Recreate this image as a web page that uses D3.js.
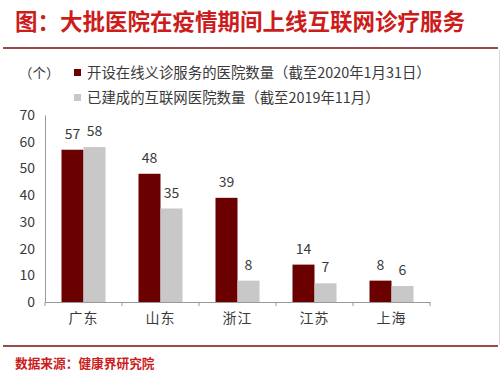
<!DOCTYPE html>
<html>
<head>
<meta charset="utf-8">
<script src="https://cdn.jsdelivr.net/npm/d3@7"></script>
<style>
  body { margin: 0; background: #fff; }
  text { font-family: "Noto Sans CJK SC", "Noto Sans", sans-serif; }
</style>
</head>
<body>
<script>
var categories = ["广东", "山东", "浙江", "江苏", "上海"];
var seriesNames = ["开设在线义诊服务的医院数量（截至2020年1月31日）", "已建成的互联网医院数量（截至2019年11月）"];
var onlineClinic = [57, 48, 39, 14, 8];
var internetHospital = [58, 35, 8, 7, 6];
var yTicks = [0, 10, 20, 30, 40, 50, 60, 70];
var colors = ["#6b0000", "#c8c8c8"];

var W = 502, H = 378;
var svg = d3.select("body").append("svg")
	.attr("width", W)
	.attr("height", H);

svg.append("rect").attr("width", W).attr("height", H).attr("fill", "#fff");

// title + rules
svg.append("text")
	.attr("x", 15)
	.attr("y", 30)
	.attr("font-size", "22.5px")
	.attr("font-weight", "bold")
	.attr("fill", "#cc1c1c")
	.text("图：大批医院在疫情期间上线互联网诊疗服务");

svg.append("line")
	.attr("x1", 3).attr("x2", 498)
	.attr("y1", 48).attr("y2", 48)
	.attr("stroke", "#9a4a4a").attr("stroke-width", 2);

svg.append("line")
	.attr("x1", 3).attr("x2", 498)
	.attr("y1", 346).attr("y2", 346)
	.attr("stroke", "#9a4a4a").attr("stroke-width", 2);

// faint frame on the right
svg.append("line")
	.attr("x1", 499.5).attr("x2", 499.5)
	.attr("y1", 50).attr("y2", 345)
	.attr("stroke", "#d8d8d8");

svg.append("text")
	.attr("x", 15)
	.attr("y", 368)
	.attr("font-size", "12.7px")
	.attr("font-weight", "bold")
	.attr("fill", "#cc1c1c")
	.text("数据来源：健康界研究院");

// scales
var x0 = d3.scaleBand()
	.domain(categories)
	.range([45, 430])
	.padding(0);

var x1 = d3.scaleBand()
	.domain([0, 1])
	.range([0, x0.bandwidth()])
	.paddingInner(0)
	.paddingOuter(0.75);

var y = d3.scaleLinear()
	.domain([0, 70])
	.range([302, 115]);

// axes
var yAxis = d3.axisLeft(y).tickValues(yTicks).tickSize(0).tickPadding(10);
var gy = svg.append("g")
	.attr("transform", "translate(45,0)")
	.call(yAxis);
gy.select(".domain").attr("stroke", "#999");
gy.selectAll("text")
	.attr("font-size", "14px")
	.attr("fill", "#3a3a3a")
	.attr("font-family", "'Open Sans', 'Noto Sans', sans-serif");

var xAxis = d3.axisBottom(x0).tickSize(0).tickPadding(11);
var gx = svg.append("g")
	.attr("transform", "translate(0,302)")
	.call(xAxis);
gx.select(".domain").attr("stroke", "#999");
gx.selectAll("text")
	.attr("font-size", "14px")
	.attr("letter-spacing", "1px")
	.attr("fill", "#3a3a3a");

// ticks on band edges
var edges = categories.map(function(c) { return x0(c); }).concat([x0.range()[1]]);
svg.selectAll(".edge")
	.data(edges)
	.enter().append("line")
	.attr("class", "edge")
	.attr("x1", function(d) { return d; })
	.attr("x2", function(d) { return d; })
	.attr("y1", 302).attr("y2", 306)
	.attr("stroke", "#999");

// bars
var rows = categories.map(function(c, i) {
	return { cat: c, vals: [onlineClinic[i], internetHospital[i]] };
});

var group = svg.selectAll(".cat")
	.data(rows)
	.enter().append("g")
	.attr("class", "cat")
	.attr("transform", function(d) { return "translate(" + x0(d.cat) + ",0)"; });

group.selectAll("rect")
	.data(function(d) { return d.vals; })
	.enter().append("rect")
	.attr("x", function(d, i) { return x1(i); })
	.attr("width", x1.bandwidth())
	.attr("y", function(d) { return y(d); })
	.attr("height", function(d) { return 302 - y(d); })
	.attr("fill", function(d, i) { return colors[i]; });

group.selectAll(".lbl")
	.data(function(d) { return d.vals; })
	.enter().append("text")
	.attr("class", "lbl")
	.attr("x", function(d, i) { return x1(i) + x1.bandwidth() / 2; })
	.attr("y", function(d) { return y(d) - 11; })
	.attr("text-anchor", "middle")
	.attr("font-size", "14px")
	.attr("fill", "#3a3a3a")
	.attr("font-family", "'Open Sans', 'Noto Sans', sans-serif")
	.text(function(d) { return d; });

// legend
svg.append("text")
	.attr("x", 19)
	.attr("y", 78)
	.attr("font-size", "13.5px")
	.attr("fill", "#3a3a3a")
	.text("（个）");

var legend = svg.selectAll(".legend")
	.data(seriesNames)
	.enter().append("g")
	.attr("class", "legend")
	.attr("transform", function(d, i) { return "translate(74," + (73 + i * 25) + ")"; });

legend.append("rect")
	.attr("x", 0).attr("y", -4)
	.attr("width", 7).attr("height", 7)
	.attr("fill", function(d, i) { return colors[i]; });

legend.append("text")
	.attr("x", 13)
	.attr("y", 5)
	.attr("font-size", "14.4px")
	.attr("fill", "#3a3a3a")
	.text(function(d) { return d; });
</script>
</body>
</html>
